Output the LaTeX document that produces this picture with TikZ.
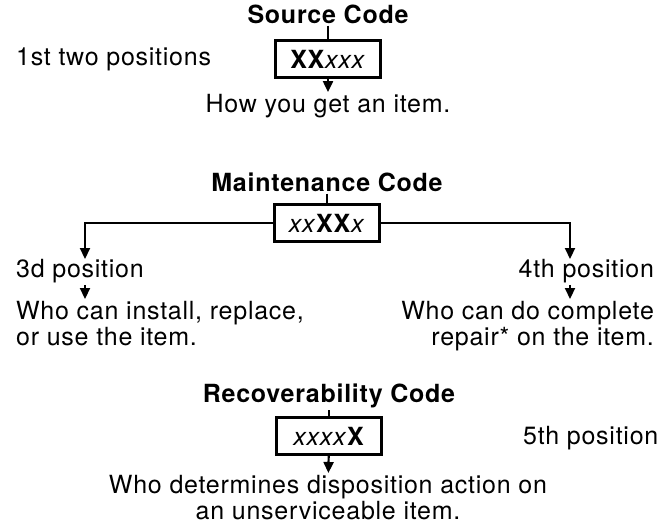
\documentclass[tikz,border=0pt]{standalone}
\usepackage{fontspec}
\setmainfont[LetterSpace=3]{TeX Gyre Heros}
\usetikzlibrary{arrows.meta,positioning}

\tikzset{every picture/.style={line width=2.2pt}}
\tikzset{
  codebox/.style={draw, line width=2.2pt, minimum width=105pt, minimum height=37pt, inner sep=0pt, font=\fontsize{25}{26}\selectfont},
  codetitle/.style={inner sep=1pt, font=\fontsize{25}{26}\selectfont\bfseries},
  codetext/.style={inner sep=1pt, font=\fontsize{25}{26}\selectfont},
  downtip/.style={-{Triangle[length=11pt,width=10pt]}}
}

\begin{document}
\begin{tikzpicture}[x=1pt,y=1pt,yscale=-1,xscale=1]
\useasboundingbox (0,0) rectangle (666,524);

% Source Code
\node[codetitle] (srcTitle) at (328,14) {Source Code};
\node[codebox] (srcBox) at (328,59) {\textbf{XX}\textit{xxx}};
\node[codetext, anchor=west] (srcPos) at (14,59) {1st two positions};
\node[codetext] (srcWhat) at (328,106) {How you get an item.};
\draw (srcTitle) -- (srcBox);
\draw [downtip] (srcBox) -- (srcWhat);

% Maintenance Code
\node[codetitle] (mntTitle) at (327,182) {Maintenance Code};
\node[codebox] (mntBox) at (327,223) {\textit{xx}\textbf{XX}\textit{x}};
\node[codetext, anchor=west] (mntPosL) at (14,271) {3d position};
\node[codetext, anchor=east] (mntPosR) at (656,271) {4th position};
\node[codetext, anchor=north west, align=left] (mntWhatL) at (14,299) {Who can install, replace,\\or use the item.};
\node[codetext, anchor=north east, align=right] (mntWhatR) at (656,299) {Who can do complete\\repair* on the item.};
\coordinate (mntL) at (85,259);
\coordinate (mntR) at (570,259);
\draw (mntTitle) -- (mntBox);
\draw [downtip] (mntBox.west) -| (mntL);
\draw [downtip] (mntBox.east) -| (mntR);
\draw [downtip] (mntL |- mntPosL.south) -- (mntL |- mntWhatL.north);
\draw [downtip] (mntR |- mntPosR.south) -- (mntR |- mntWhatR.north);

% Recoverability Code
\node[codetitle] (recTitle) at (329,396) {Recoverability Code};
\node[codebox] (recBox) at (329,436) {\textit{xxxx}\textbf{X}};
\node[codetext, anchor=west] (recPos) at (521,438) {5th position};
\node[codetext, anchor=north, align=center] (recWhat) at (328,473) {Who determines disposition action on\\an unserviceable item.};
\draw (recTitle) -- (recBox);
\draw [downtip] (recBox) -- (recWhat);

\end{tikzpicture}
\end{document}
